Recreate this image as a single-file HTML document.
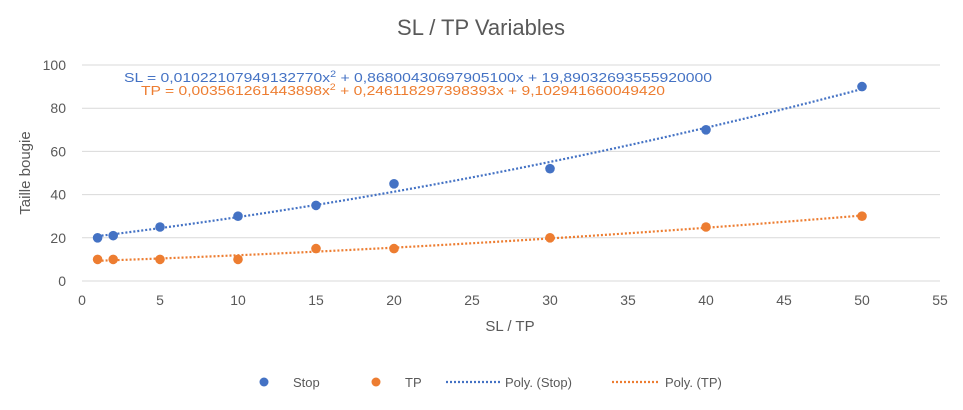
<!DOCTYPE html>
<html><head><meta charset="utf-8"><style>
body{margin:0;background:#fff;font-family:"Liberation Sans",sans-serif;}
svg text{font-family:"Liberation Sans",sans-serif;}
</style></head><body>
<svg id="c" width="963" height="405" viewBox="0 0 963 405">
<rect width="963" height="405" fill="#fff"/>
<text x="481" y="35" text-anchor="middle" font-size="22" fill="#595959">SL / TP Variables</text>
<g id="grid"></g><g id="axes"></g><g id="trend"></g><g id="pts"></g>
<text transform="translate(30,173) rotate(-90)" text-anchor="middle" font-size="15" fill="#595959">Taille bougie</text>
<text x="510" y="331" text-anchor="middle" font-size="15" fill="#595959">SL / TP</text>
<text x="124" y="82" font-size="13.2" fill="#4472C4" textLength="588" lengthAdjust="spacingAndGlyphs">SL = 0,01022107949132770x<tspan dy="-5" font-size="9">2</tspan><tspan dy="5"> + 0,86800430697905100x + 19,89032693555920000</tspan></text>
<text x="141" y="95" font-size="13.2" fill="#ED7D31" textLength="524" lengthAdjust="spacingAndGlyphs">TP = 0,003561261443898x<tspan dy="-5" font-size="9">2</tspan><tspan dy="5"> + 0,246118297398393x + 9,102941660049420</tspan></text>
<g>
<circle cx="264" cy="382" r="4.5" fill="#4472C4"/>
<text x="293" y="387" font-size="13" fill="#595959">Stop</text>
<circle cx="376" cy="382" r="4.5" fill="#ED7D31"/>
<text x="405" y="387" font-size="13" fill="#595959">TP</text>
<line x1="446" y1="382" x2="500" y2="382" stroke="#4472C4" stroke-width="2.2" stroke-dasharray="2,2"/>
<text x="505" y="387" font-size="13" fill="#595959">Poly. (Stop)</text>
<line x1="612" y1="382" x2="660" y2="382" stroke="#ED7D31" stroke-width="2.2" stroke-dasharray="2,2"/>
<text x="665" y="387" font-size="13" fill="#595959">Poly. (TP)</text>
</g>
</svg>
<script>
const xValues=[1,2,5,10,15,20,30,40,50];
const stopValues=[20,21,25,30,35,45,52,70,90];
const tpValues=[10,10,10,10,15,15,20,25,30];
const xTicks=[0,5,10,15,20,25,30,35,40,45,50,55];
const yTicks=[0,20,40,60,80,100];
const NS="http://www.w3.org/2000/svg";
const X0=82,X1=940,Y0=281,Y1=65;
const sx=v=>X0+(v-0)/(55-0)*(X1-X0);
const sy=v=>Y0-(v-0)/(100-0)*(Y0-Y1);
function mk(tag,attrs,parent){const e=document.createElementNS(NS,tag);for(const k in attrs)e.setAttribute(k,attrs[k]);document.getElementById(parent).appendChild(e);return e;}
yTicks.forEach(t=>{
 const l=mk('line',{x1:X0,x2:X1,y1:sy(t),y2:sy(t),stroke:'#d9d9d9','stroke-width':1},'grid');
 
 
 const tx=mk('text',{x:X0-16,y:sy(t)+5,'text-anchor':'end','font-size':14,fill:'#595959'},'axes');
 tx.textContent=t;
 
 
});
xTicks.forEach(t=>{
 const tx=mk('text',{x:sx(t),y:Y0+24,'text-anchor':'middle','font-size':14,fill:'#595959'},'axes');
 tx.textContent=t;
 
 
});
function fit(xs,ys){
 let S=[0,0,0,0,0],T=[0,0,0];
 xs.forEach((x,i)=>{for(let k=0;k<5;k++)S[k]+=Math.pow(x,k);for(let k=0;k<3;k++)T[k]+=ys[i]*Math.pow(x,k);});
 const A=[[S[0],S[1],S[2],T[0]],[S[1],S[2],S[3],T[1]],[S[2],S[3],S[4],T[2]]];
 for(let i=0;i<3;i++){for(let j=i+1;j<3;j++){const f=A[j][i]/A[i][i];for(let k=i;k<4;k++)A[j][k]-=f*A[i][k];}}
 const c=[0,0,0];
 for(let i=2;i>=0;i--){let s=A[i][3];for(let k=i+1;k<3;k++)s-=A[i][k]*c[k];c[i]=s/A[i][i];}
 return c;
}
function series(ys,color,name){
 const c=fit(xValues,ys);
 const xmin=Math.min(...xValues),xmax=Math.max(...xValues);
 let d='';
 for(let i=0;i<=60;i++){const x=xmin+(xmax-xmin)*i/60;const y=c[0]+c[1]*x+c[2]*x*x;d+=(i?'L':'M')+sx(x).toFixed(2)+','+sy(y).toFixed(2);}
 const p=mk('path',{d:d,fill:'none',stroke:color,'stroke-width':2.2,'stroke-dasharray':'2,2'},'trend');
 
 
 xValues.forEach((x,i)=>{
  const ci=mk('circle',{cx:sx(x),cy:sy(ys[i]),r:4.8,fill:color},'pts');
  
  
 });
}
series(stopValues,'#4472C4','stop');
series(tpValues,'#ED7D31','tp');
</script>
</body></html>
